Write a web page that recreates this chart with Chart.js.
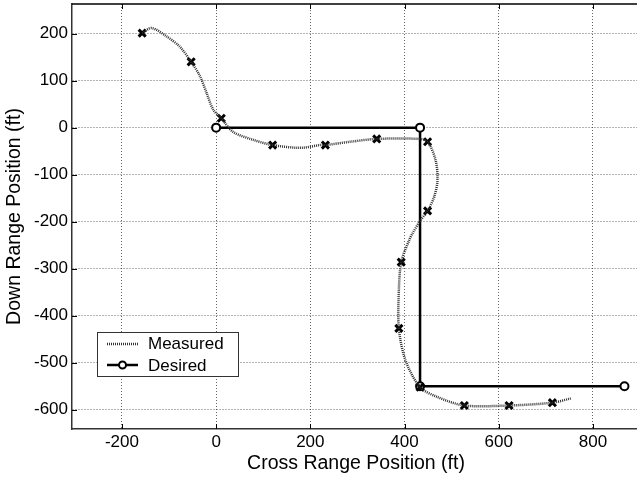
<!DOCTYPE html>
<html>
<head>
<meta charset="utf-8">
<script src="https://cdn.jsdelivr.net/npm/chart.js@4"></script>
<style>
  html, body { margin: 0; padding: 0; overflow: hidden; background: #fff; }
  #myChart { display: block; }
</style>
</head>
<body>
<canvas id="myChart" width="641" height="480"></canvas>
<script>
// measured path (ft)
const measuredX = [-157, -137, -105, -77, -53, -34, -20, -6, 11, 36, 79, 120, 179, 221, 232, 285, 341, 431, 449, 466, 470, 463, 449, 434, 417, 410, 393, 388, 388, 402, 433, 470, 527, 622, 714, 753]
const measuredY = [201, 212, 194, 172, 140, 109, 73, 38, 20, -9, -26, -37, -43, -37, -37, -30, -24, -24, -30, -69, -112, -147, -177, -197, -225, -239, -286, -346, -427, -495, -552, -573, -591, -591, -585, -576]

// x marks on the measured path
const markX = [-157, -53, 11, 120, 232, 341, 449, 449, 393, 388, 433, 527, 622, 714]
const markY = [201, 140, 20, -37, -37, -24, -30, -177, -286, -427, -552, -591, -591, -585]

// desired path
const desiredX = [0, 433, 433, 867]
const desiredY = [0, 0, -550, -550]

const xTicks = [-200, 0, 200, 400, 600, 800]
const yTicks = [-600, -500, -400, -300, -200, -100, 0, 100, 200]

const FONT = "'Liberation Sans', Arial, Helvetica, sans-serif"

function toPoints(xs, ys) {
  return xs.map((x, i) => ({x: x, y: ys[i]}))
}

// top border, inner tick marks and the legend box
const extras = {
  id: 'extras',
  afterDraw(chart) {
    const {ctx, chartArea: a, scales: {x, y}} = chart
    ctx.save()
    ctx.strokeStyle = '#000'
    ctx.lineWidth = 1.5
    ctx.beginPath()
    ctx.moveTo(a.left, a.top)
    ctx.lineTo(a.right, a.top)
    ctx.stroke()

    ctx.lineWidth = 1
    ctx.beginPath()
    xTicks.forEach(v => {
      const px = Math.round(x.getPixelForValue(v)) + 0.5
      ctx.moveTo(px, a.top); ctx.lineTo(px, a.top + 5)
      ctx.moveTo(px, a.bottom); ctx.lineTo(px, a.bottom - 5)
    })
    yTicks.forEach(v => {
      const py = Math.round(y.getPixelForValue(v)) + 0.5
      ctx.moveTo(a.left, py); ctx.lineTo(a.left + 5, py)
    })
    ctx.stroke()

    // legend
    const bx = 97.5, by = 332.5, bw = 141, bh = 44
    ctx.fillStyle = '#fff'
    ctx.fillRect(bx, by, bw, bh)
    ctx.strokeStyle = '#333'
    ctx.lineWidth = 1
    ctx.strokeRect(bx, by, bw, bh)

    ctx.strokeStyle = '#333'
    ctx.lineWidth = 2.5
    ctx.setLineDash([1, 1])
    ctx.beginPath()
    ctx.moveTo(107, 344); ctx.lineTo(138, 344)
    ctx.stroke()
    ctx.setLineDash([])

    ctx.strokeStyle = '#000'
    ctx.lineWidth = 2.5
    ctx.beginPath()
    ctx.moveTo(107, 365); ctx.lineTo(138, 365)
    ctx.stroke()
    ctx.fillStyle = '#fff'
    ctx.lineWidth = 2
    ctx.beginPath()
    ctx.arc(122.5, 365, 3.5, 0, Math.PI * 2)
    ctx.fill(); ctx.stroke()

    ctx.fillStyle = '#000'
    ctx.font = '17px ' + FONT
    ctx.textBaseline = 'middle'
    ctx.textAlign = 'left'
    ctx.fillText('Measured', 148, 344)
    ctx.fillText('Desired', 148, 366)
    ctx.restore()
  }
}

new Chart(document.getElementById('myChart'), {
  type: 'scatter',
  data: {
    datasets: [
      {
        label: 'Measured',
        data: toPoints(measuredX, measuredY),
        showLine: true,
        borderColor: '#333',
        borderWidth: 2.5,
        borderDash: [1, 1],
        pointRadius: 0,
        tension: 0.3
      },
      {
        label: 'marks',
        data: toPoints(markX, markY),
        showLine: false,
        pointStyle: 'crossRot',
        pointRadius: 5,
        borderColor: '#000',
        borderWidth: 3
      },
      {
        label: 'Desired',
        data: toPoints(desiredX, desiredY),
        showLine: true,
        borderColor: '#000',
        borderWidth: 2.5,
        pointStyle: 'circle',
        pointRadius: 4,
        pointBackgroundColor: '#fff',
        pointBorderColor: '#000',
        pointBorderWidth: 2
      }
    ]
  },
  options: {
    responsive: false,
    animation: false,
    layout: {autoPadding: false, padding: {top: 4, right: 1, left: 0, bottom: 0}},
    plugins: {
      legend: {display: false},
      tooltip: {enabled: false}
    },
    scales: {
      x: {
        type: 'linear',
        min: -306,
        max: 900,
        afterBuildTicks: s => { s.ticks = xTicks.map(v => ({value: v})) },
        afterFit: s => { s.height = 51; s.paddingLeft = 0; s.paddingRight = 0 },
        grid: {color: 'rgba(0,0,0,0.6)', lineWidth: 1, drawTicks: false},
        border: {display: true, color: '#333', width: 1.5, dash: [1, 2]},
        ticks: {color: '#000', padding: 3, font: {family: FONT, size: 17}, maxRotation: 0},
        title: {
          display: true,
          text: 'Cross Range Position (ft)',
          color: '#000',
          font: {family: FONT, size: 19.5},
          padding: {top: 0, bottom: 5}
        }
      },
      y: {
        type: 'linear',
        min: -641,
        max: 263,
        afterBuildTicks: s => { s.ticks = yTicks.map(v => ({value: v})) },
        afterFit: s => { s.width = 72; s.paddingTop = 0; s.paddingBottom = 0 },
        grid: {color: 'rgba(0,0,0,0.6)', lineWidth: 1, drawTicks: false},
        border: {display: true, color: '#333', width: 1.5, dash: [1, 2]},
        ticks: {color: '#000', padding: 4, font: {family: FONT, size: 17}},
        title: {
          display: true,
          text: 'Down Range Position (ft)',
          color: '#000',
          font: {family: FONT, size: 19.5},
          padding: {top: 3, bottom: 0}
        }
      }
    }
  },
  plugins: [extras]
})
</script>
</body>
</html>
